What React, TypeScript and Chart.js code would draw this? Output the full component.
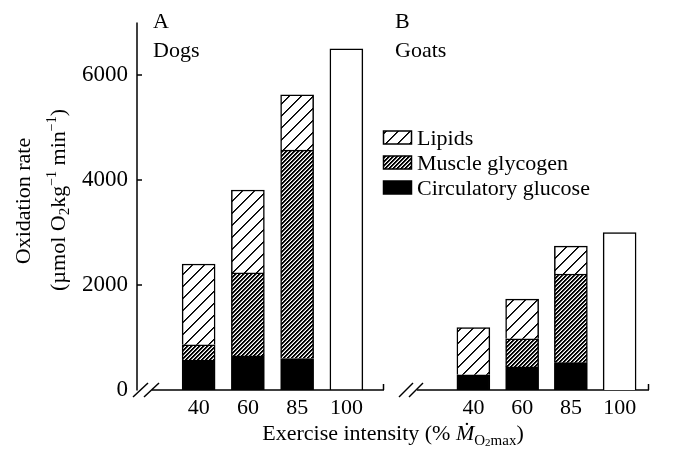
import React, { useEffect, useRef } from 'react';
import { Chart, registerables } from 'chart.js';

Chart.register(...registerables);

// ---------- data ----------
const intensities = ['40', '60', '85', '100'];
const dogsGlucose = [570, 650, 600, null];
const dogsGlycogen = [290, 1580, 3970, null];
const dogsLipids = [1540, 1580, 1050, null];
const dogsMaxTotal = [null, null, null, 6500];
const goatsGlucose = [290, 440, 520, null];
const goatsGlycogen = [0, 535, 1690, null];
const goatsLipids = [900, 755, 530, null];
const goatsMaxTotal = [null, null, null, 3000];
const yTickValues = [0, 2000, 4000, 6000];
const yMin = 0;
const yMax = 7000;
const legendLabels = ['Lipids', 'Muscle glycogen', 'Circulatory glucose'];
const panelLabels = ['A', 'B'];
const speciesLabels = ['Dogs', 'Goats'];

const SERIF = '"Liberation Serif", "Times New Roman", serif';
const W = 673;
const H = 454;

function makePattern(kind: 'lipids' | 'glycogen'): CanvasPattern | string {
  const n = kind === 'lipids' ? 12 : 4;
  const c = document.createElement('canvas');
  c.width = n;
  c.height = n;
  const g = c.getContext('2d');
  if (!g) return '#888';
  const img = g.createImageData(n, n);
  for (let y = 0; y < n; y++) {
    for (let x = 0; x < n; x++) {
      const v = (x + y) % n;
      let val = 255;
      if (kind === 'lipids') {
        if (v === 0) val = 0;
        else if (v === 1) val = 40;
      } else {
        if (v === 0 || v === 1) val = 0;
        else if (v === 2) val = 150;
      }
      const i = (y * n + x) * 4;
      img.data[i] = val;
      img.data[i + 1] = val;
      img.data[i + 2] = val;
      img.data[i + 3] = 255;
    }
  }
  g.putImageData(img, 0, 0);
  const p = g.createPattern(c, 'repeat');
  return p || '#888';
}

type Seg = { t: string; size: number; dy?: number; italic?: boolean };

function richWidth(ctx: CanvasRenderingContext2D, segs: Seg[]) {
  let w = 0;
  for (const s of segs) {
    ctx.font = `${s.italic ? 'italic ' : ''}${s.size}px ${SERIF}`;
    w += ctx.measureText(s.t).width;
  }
  return w;
}

function drawRich(ctx: CanvasRenderingContext2D, segs: Seg[], cx: number, baseY: number) {
  const w = richWidth(ctx, segs);
  let x = cx - w / 2;
  ctx.textAlign = 'left';
  ctx.textBaseline = 'alphabetic';
  for (const s of segs) {
    ctx.font = `${s.italic ? 'italic ' : ''}${s.size}px ${SERIF}`;
    ctx.fillText(s.t, x, baseY + (s.dy || 0));
    x += ctx.measureText(s.t).width;
  }
}

function buildDatasets(glu: (number | null)[], gly: (number | null)[], lip: (number | null)[], tot: (number | null)[], pats: { lipids: any; glycogen: any }) {
  const common = {
    borderColor: '#000',
    borderWidth: 1.5,
    barThickness: 33,
    stack: 's',
  };
  return [
    { ...common, label: legendLabels[2], data: glu, backgroundColor: '#000' },
    { ...common, label: legendLabels[1], data: gly, backgroundColor: pats.glycogen },
    { ...common, label: legendLabels[0], data: lip, backgroundColor: pats.lipids },
    { ...common, label: 'Total', data: tot, backgroundColor: '#fff' },
  ];
}

export default function App() {
  const refA = useRef<HTMLCanvasElement | null>(null);
  const refB = useRef<HTMLCanvasElement | null>(null);

  useEffect(() => {
    if (!refA.current || !refB.current) return;
    const pats = { lipids: makePattern('lipids'), glycogen: makePattern('glycogen') };

    const decor = {
      id: 'decor',
      afterDraw(chart: any) {
        const ctx: CanvasRenderingContext2D = chart.ctx;
        const ys = chart.scales.y;
        const y0 = ys.getPixelForValue(yMin);
        const yTop = ys.getPixelForValue(yMax);
        ctx.save();
        ctx.strokeStyle = '#000';
        ctx.fillStyle = '#000';
        ctx.lineWidth = 1.5;
        const line = (x1: number, y1: number, x2: number, y2: number) => {
          ctx.beginPath();
          ctx.moveTo(x1, y1);
          ctx.lineTo(x2, y2);
          ctx.stroke();
        };
        // y axis
        const ax = 137;
        line(ax, yTop, ax, y0 + 0.5);
        for (const v of yTickValues) {
          if (v === 0) continue;
          const p = ys.getPixelForValue(v);
          line(ax, p, ax + 5, p);
        }
        // panel A baseline and break
        const by = y0;
        line(133, 397, 148, 383);
        line(144, 397, 159, 383);
        line(152, by, 384, by);
        line(383.5, by, 383.5, by - 6);
        // panel B baseline and break
        line(399, 397, 413, 383);
        line(409, 397, 423, 383);
        line(417, by, 649, by);
        line(648.5, by, 648.5, by - 6);

        // panel labels
        ctx.textAlign = 'left';
        ctx.textBaseline = 'alphabetic';
        ctx.font = `22px ${SERIF}`;
        ctx.fillText(panelLabels[0], 153, 28);
        ctx.fillText(speciesLabels[0], 153, 57);
        ctx.fillText(panelLabels[1], 395, 28);
        ctx.fillText(speciesLabels[1], 395, 57);

        // legend
        const items = [
          { fill: pats.lipids, label: legendLabels[0], base: 145 },
          { fill: pats.glycogen, label: legendLabels[1], base: 170 },
          { fill: '#000', label: legendLabels[2], base: 195 },
        ];
        for (const it of items) {
          const bx = 383.5, bw = 28, bh = 13, byy = it.base - 14;
          ctx.fillStyle = it.fill as any;
          ctx.fillRect(bx, byy, bw, bh);
          ctx.lineWidth = 1.5;
          ctx.strokeStyle = '#000';
          ctx.strokeRect(bx, byy, bw, bh);
          ctx.fillStyle = '#000';
          ctx.font = `22px ${SERIF}`;
          ctx.fillText(it.label, 417, it.base);
        }

        // y title
        ctx.save();
        ctx.translate(30, 201);
        ctx.rotate(-Math.PI / 2);
        drawRich(ctx, [{ t: 'Oxidation rate', size: 22 }], 0, 0);
        ctx.restore();
        ctx.save();
        ctx.translate(65, 200);
        ctx.rotate(-Math.PI / 2);
        drawRich(
          ctx,
          [
            { t: '(\u00B5mol O', size: 22 },
            { t: '2', size: 15, dy: 4 },
            { t: 'kg', size: 22 },
            { t: '\u22121', size: 14, dy: -9 },
            { t: ' min', size: 22 },
            { t: '\u22121', size: 14, dy: -9 },
            { t: ')', size: 22 },
          ],
          0,
          0
        );
        ctx.restore();

        // x title
        drawRich(
          ctx,
          [
            { t: 'Exercise intensity (% ', size: 22 },
            { t: '\u1E40', size: 22, italic: true },
            { t: 'O', size: 15, dy: 5 },
            { t: '2', size: 11, dy: 6 },
            { t: 'max', size: 15, dy: 5 },
            { t: ')', size: 22 },
          ],
          393,
          440
        );
        ctx.restore();
      },
    };

    const baseScales = (showY: boolean): any => ({
      x: {
        type: 'category',
        stacked: true,
        grid: { display: false, drawTicks: false },
        border: { display: false },
        ticks: {
          color: '#000',
          font: { family: SERIF, size: 22 },
          padding: 5,
          maxRotation: 0,
          autoSkip: false,
        },
        afterFit: (s: any) => {
          s.height = 64;
        },
      },
      y: {
        display: showY,
        stacked: true,
        min: yMin,
        max: yMax,
        grid: { display: false, drawTicks: false },
        border: { display: false },
        afterBuildTicks: (s: any) => {
          s.ticks = yTickValues.map((v) => ({ value: v }));
        },
        ticks: {
          color: '#000',
          font: { family: SERIF, size: 23 },
          padding: 46,
          autoSkip: false,
          callback: (v: any) => String(v),
        },
        afterFit: (s: any) => {
          if (showY) s.width = 174;
          s.paddingTop = 0;
          s.paddingBottom = 0;
        },
      },
    });

    const chartA = new Chart(refA.current, {
      type: 'bar',
      data: { labels: intensities, datasets: buildDatasets(dogsGlucose, dogsGlycogen, dogsLipids, dogsMaxTotal, pats) as any },
      options: {
        responsive: false,
        animation: false,
        devicePixelRatio: 1,
        layout: { padding: { left: 0, right: W - 371, top: 22.5, bottom: 0 } },
        plugins: { legend: { display: false }, tooltip: { enabled: false } },
        scales: baseScales(true),
      },
      plugins: [decor],
    });

    const chartB = new Chart(refB.current, {
      type: 'bar',
      data: { labels: intensities, datasets: buildDatasets(goatsGlucose, goatsGlycogen, goatsLipids, goatsMaxTotal, pats) as any },
      options: {
        responsive: false,
        animation: false,
        devicePixelRatio: 1,
        layout: { padding: { left: 449 - 392, right: W - 644, top: 22.5, bottom: 0 } },
        plugins: { legend: { display: false }, tooltip: { enabled: false } },
        scales: baseScales(false),
      },
    });

    return () => {
      chartA.destroy();
      chartB.destroy();
    };
  }, []);

  return (
    <div style={{ position: 'absolute', left: 0, top: 0, width: W, height: H, background: '#fff' }}>
      <canvas ref={refA} width={W} height={H} style={{ position: 'absolute', left: 0, top: 0, width: W, height: H }} />
      <canvas ref={refB} width={W - 392} height={H} style={{ position: 'absolute', left: 392, top: 0, width: W - 392, height: H }} />
    </div>
  );
}
